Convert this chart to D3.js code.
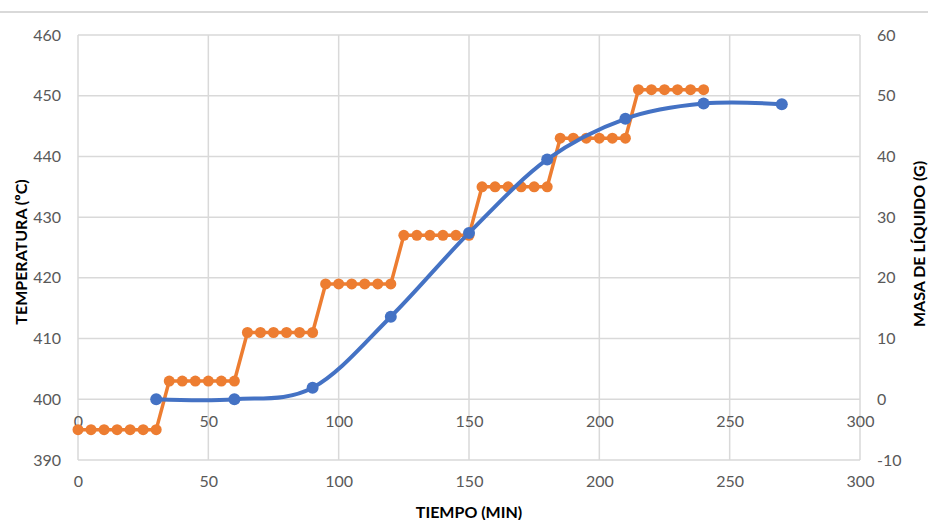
<!DOCTYPE html>
<html><head><meta charset="utf-8">
<script src="https://cdn.jsdelivr.net/npm/d3@7"></script>
<style>body{margin:0;background:#fff}svg{display:block}</style>
</head><body>
<svg id="c" width="928" height="520"></svg>
<script>
const tempTime = [0,5,10,15,20,25,30,35,40,45,50,55,60,65,70,75,80,85,90,95,100,105,110,115,120,125,130,135,140,145,150,155,160,165,170,175,180,185,190,195,200,205,210,215,220,225,230,235,240];
const tempValues = [395,395,395,395,395,395,395,403,403,403,403,403,403,411,411,411,411,411,411,419,419,419,419,419,419,427,427,427,427,427,427,435,435,435,435,435,435,443,443,443,443,443,443,451,451,451,451,451,451];
const massTime = [30,60,90,120,150,180,210,240,270];
const massValues = [0,0,1.9,13.6,27.4,39.5,46.2,48.7,48.6];
const xTicks = [0,50,100,150,200,250,300];
const leftTicks = [390,400,410,420,430,440,450,460];
const rightTicks = [-10,0,10,20,30,40,50,60];

const svg = d3.select('#c');
const L=78,R=860,T=35,B=460;
const x = d3.scaleLinear().domain([0,300]).range([L,R]);
const yL = d3.scaleLinear().domain([390,460]).range([B,T]);
const yR = d3.scaleLinear().domain([-10,60]).range([B,T]);
const grid='#d9d9d9', txt='#595959', font='Lato, "Open Sans", sans-serif';
const fmt = d=>String(d);

svg.append('line').attr('x1',0).attr('x2',928).attr('y1',12).attr('y2',12).attr('stroke','#d9d9d9').attr('stroke-width',2);

const g = svg.append('g');
g.selectAll('.h').data(leftTicks).join('line').attr('x1',L).attr('x2',R)
 .attr('y1',d=>yL(d)).attr('y2',d=>yL(d)).attr('stroke',grid).attr('stroke-width',1.5);
g.selectAll('.v').data(xTicks).join('line').attr('y1',T).attr('y2',B)
 .attr('x1',d=>x(d)).attr('x2',d=>x(d)).attr('stroke',grid).attr('stroke-width',1.5);

const axL = svg.append('g').attr('transform',`translate(${L},0)`).call(d3.axisLeft(yL).tickValues(leftTicks).tickFormat(fmt).tickSize(0).tickPadding(17));
const axR = svg.append('g').attr('transform',`translate(${R},0)`).call(d3.axisRight(yR).tickValues(rightTicks).tickFormat(fmt).tickSize(0).tickPadding(17));
const axB = svg.append('g').attr('transform',`translate(0,${B})`).call(d3.axisBottom(x).tickValues(xTicks).tickFormat(fmt).tickSize(0).tickPadding(16));
const axB2 = svg.append('g').attr('transform',`translate(0,${yR(0)})`).call(d3.axisBottom(x).tickValues(xTicks).tickFormat(fmt).tickSize(0).tickPadding(16));
[axL,axR,axB,axB2].forEach(a=>{a.select('.domain').remove();a.selectAll('text').attr('fill',txt).style('font-family',font).style('font-size','16px');});

// orange temperature
const lineT = d3.line().x((d,i)=>x(tempTime[i])).y(d=>yL(d));
svg.append('path').datum(tempValues).attr('d',lineT).attr('fill','none').attr('stroke','#ED7D31').attr('stroke-width',3.5).attr('stroke-linejoin','round');
svg.selectAll('.mt').data(tempValues).join('circle').attr('cx',(d,i)=>x(tempTime[i])).attr('cy',d=>yL(d)).attr('r',5.5).attr('fill','#ED7D31');

// blue mass
const lineM = d3.line().x((d,i)=>x(massTime[i])).y(d=>yR(d)).curve(d3.curveCatmullRom.alpha(0));
svg.append('path').datum(massValues).attr('d',lineM).attr('fill','none').attr('stroke','#4472C4').attr('stroke-width',4).attr('stroke-linecap','round');
svg.selectAll('.mm').data(massValues).join('circle').attr('cx',(d,i)=>x(massTime[i])).attr('cy',d=>yR(d)).attr('r',6).attr('fill','#4472C4');

// titles
const tf = {'font-family':font,'font-weight':'bold','font-size':'16px','fill':'#000'};
function title(t,xx,yy,rot){const e=svg.append('text').text(t).attr('text-anchor','middle').attr('dominant-baseline','central')
  .attr('transform',`translate(${xx},${yy}) rotate(${rot})`);Object.entries(tf).forEach(([k,v])=>e.style(k,v));}
title('TEMPERATURA (ºC)',20,252,-90);
title('MASA DE LÍQUIDO (G)',918,244,-90);
title('TIEMPO (MIN)',469,511,0);
</script>
</body></html>
